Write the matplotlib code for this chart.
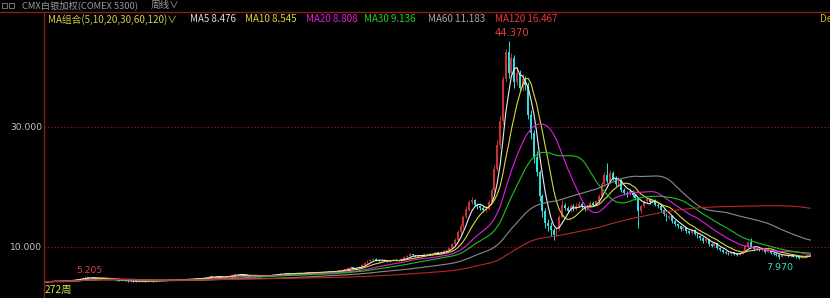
import numpy as np
import pandas as pd
import matplotlib
matplotlib.use('Agg')
import matplotlib.pyplot as plt
from matplotlib.lines import Line2D
from matplotlib.patches import Rectangle

# weekly bars (272 weeks)
closes = [
    4.20, 4.25, 4.30, 4.30, 4.25, 4.30, 4.35, 4.40, 4.45, 4.50,
    4.50, 4.60, 4.75, 4.90, 4.95, 4.85, 4.90, 4.80, 4.75, 4.80,
    4.70, 4.65, 4.60, 4.55, 4.50, 4.45, 4.40, 4.40, 4.35, 4.30,
    4.35, 4.30, 4.25, 4.30, 4.35, 4.30, 4.40, 4.35, 4.30, 4.40,
    4.45, 4.50, 4.45, 4.50, 4.55, 4.50, 4.60, 4.55, 4.50, 4.60,
    4.70, 4.65, 4.70, 4.75, 4.70, 4.80, 4.90, 5.00, 5.10, 5.00,
    5.05, 5.10, 5.00, 4.95, 5.10, 5.20, 5.40, 5.50, 5.45, 5.35,
    5.30, 5.20, 5.10, 5.15, 5.10, 5.05, 5.20, 5.30, 5.25, 5.20,
    5.35, 5.50, 5.55, 5.50, 5.50, 5.60, 5.55, 5.50, 5.60, 5.70,
    5.65, 5.60, 5.70, 5.75, 5.80, 5.70, 5.75, 5.80, 5.90, 5.85,
    5.90, 5.90, 6.00, 5.95, 6.10, 6.20, 6.30, 6.50, 6.60, 6.40,
    6.50, 6.70, 7.00, 7.40, 7.70, 7.90, 8.00, 7.80, 7.60, 7.70,
    7.80, 7.60, 7.70, 7.90, 7.80, 7.70, 8.00, 8.30, 8.50, 8.80,
    8.60, 8.40, 8.50, 8.60, 8.80, 8.90, 8.70, 8.90, 9.10, 9.00,
    9.20, 9.30, 9.50, 9.80, 10.5, 11.2, 12.5, 13.5, 15.0, 16.2,
    17.5, 17.8, 17.0, 16.8, 16.5, 16.2, 16.3, 17.5, 19.5, 23.0,
    27.0, 31.0, 38.0, 42.5, 39.0, 41.5, 37.5, 39.0, 36.5, 38.0,
    37.0, 32.0, 29.0, 25.0, 22.5, 18.5, 16.0, 14.0, 13.5, 12.8,
    12.0, 13.0, 15.0, 17.0, 16.5, 16.0, 16.8, 16.4, 16.9, 17.2,
    16.6, 16.3, 16.8, 17.3, 17.0, 17.6, 18.5, 20.5, 22.0, 21.0,
    22.3, 21.5, 20.5, 21.2, 19.5, 19.0, 18.8, 19.3, 18.6, 18.2,
    16.0, 16.8, 17.6, 18.0, 17.5, 17.8, 17.0, 16.8, 16.2, 15.5,
    14.8, 15.2, 14.3, 13.8, 13.5, 13.0, 13.3, 12.6, 12.4, 12.8,
    12.2, 11.8, 11.5, 11.0, 11.3, 10.5, 10.2, 10.6, 9.80, 9.50,
    9.20, 9.00, 8.80, 9.10, 8.80, 8.70, 9.00, 9.40, 10.2, 10.8,
    10.0, 9.60, 9.70, 9.50, 9.60, 9.20, 9.40, 9.00, 8.90, 8.70,
    8.40, 8.60, 8.70, 8.50, 8.60, 8.40, 8.30, 8.20, 8.30, 8.40,
    8.60, 8.90,
]
highs = [
    4.30, 4.32, 4.36, 4.38, 4.36, 4.36, 4.42, 4.46, 4.52, 4.56,
    4.58, 4.68, 4.82, 5.05, 5.205, 5.02, 4.98, 4.95, 4.86, 4.88,
    4.86, 4.76, 4.72, 4.66, 4.62, 4.56, 4.52, 4.48, 4.46, 4.42,
    4.42, 4.42, 4.36, 4.36, 4.42, 4.42, 4.46, 4.46, 4.42, 4.46,
    4.52, 4.56, 4.56, 4.56, 4.62, 4.62, 4.66, 4.66, 4.62, 4.66,
    4.78, 4.76, 4.76, 4.82, 4.82, 4.88, 4.98, 5.08, 5.20, 5.16,
    5.12, 5.18, 5.16, 5.06, 5.16, 5.28, 5.48, 5.62, 5.58, 5.50,
    5.42, 5.36, 5.26, 5.22, 5.22, 5.16, 5.26, 5.38, 5.36, 5.32,
    5.42, 5.58, 5.64, 5.62, 5.58, 5.68, 5.66, 5.62, 5.68, 5.78,
    5.78, 5.72, 5.78, 5.82, 5.88, 5.86, 5.82, 5.88, 5.98, 5.96,
    5.98, 5.98, 6.08, 6.06, 6.18, 6.28, 6.40, 6.62, 6.85, 6.66,
    6.60, 6.82, 7.12, 7.55, 7.85, 8.05, 8.25, 8.10, 7.90, 7.82,
    7.92, 7.90, 7.80, 8.00, 7.98, 7.88, 8.10, 8.42, 8.62, 8.95,
    8.90, 8.70, 8.60, 8.70, 8.92, 9.02, 8.98, 9.00, 9.22, 9.20,
    9.32, 9.42, 9.62, 9.95, 10.7, 11.5, 12.8, 13.9, 15.4, 16.8,
    17.9, 18.4, 18.0, 17.4, 17.0, 16.8, 16.8, 17.8, 19.9, 23.6,
    27.8, 31.8, 38.5, 43.0, 44.37, 42.3, 42.0, 39.8, 39.5, 38.8,
    38.5, 37.5, 32.8, 29.5, 26.0, 22.9, 18.9, 16.5, 14.6, 14.2,
    13.2, 13.4, 15.4, 17.8, 17.4, 16.9, 17.2, 17.1, 17.3, 17.6,
    17.5, 16.9, 17.0, 17.6, 17.6, 17.9, 18.9, 20.9, 22.5, 24.0,
    22.8, 22.6, 21.8, 21.6, 21.4, 19.9, 19.3, 19.6, 19.5, 18.9,
    18.4, 17.0, 17.8, 18.3, 18.2, 18.0, 18.0, 17.3, 17.0, 16.4,
    15.7, 15.4, 15.3, 14.5, 14.0, 13.7, 13.5, 13.4, 12.9, 13.0,
    13.0, 12.4, 12.0, 11.6, 11.5, 11.4, 10.7, 10.8, 10.7, 9.95,
    9.60, 9.30, 9.10, 9.20, 9.20, 8.90, 9.10, 9.50, 10.4, 11.0,
    11.5, 10.1, 9.80, 9.80, 9.70, 9.70, 9.50, 9.50, 9.10, 9.00,
    8.80, 8.70, 8.85, 8.80, 8.70, 8.70, 8.50, 8.40, 8.40, 8.50,
    8.70, 9.00,
]
lows = [
    4.12, 4.15, 4.20, 4.22, 4.18, 4.20, 4.25, 4.30, 4.34, 4.40,
    4.42, 4.45, 4.55, 4.70, 4.85, 4.78, 4.80, 4.72, 4.68, 4.70,
    4.62, 4.58, 4.52, 4.48, 4.42, 4.38, 4.32, 4.32, 4.28, 4.22,
    4.24, 4.24, 4.18, 4.18, 4.24, 4.24, 4.24, 4.28, 4.22, 4.24,
    4.34, 4.38, 4.38, 4.38, 4.44, 4.44, 4.44, 4.48, 4.42, 4.44,
    4.54, 4.58, 4.58, 4.64, 4.64, 4.64, 4.74, 4.84, 4.94, 4.92,
    4.92, 4.98, 4.92, 4.88, 4.90, 5.02, 5.14, 5.32, 5.38, 5.28,
    5.22, 5.12, 5.04, 5.04, 5.04, 4.98, 5.00, 5.14, 5.18, 5.12,
    5.14, 5.28, 5.42, 5.44, 5.42, 5.44, 5.48, 5.42, 5.44, 5.54,
    5.56, 5.52, 5.54, 5.62, 5.68, 5.62, 5.64, 5.68, 5.74, 5.78,
    5.78, 5.82, 5.84, 5.88, 5.90, 6.02, 6.12, 6.22, 6.42, 6.32,
    6.30, 6.42, 6.62, 6.90, 7.30, 7.60, 7.80, 7.70, 7.50, 7.52,
    7.60, 7.52, 7.52, 7.62, 7.70, 7.60, 7.62, 7.92, 8.20, 8.42,
    8.50, 8.30, 8.32, 8.42, 8.52, 8.70, 8.60, 8.62, 8.82, 8.90,
    8.90, 9.10, 9.20, 9.40, 9.70, 10.3, 11.0, 12.2, 13.2, 14.8,
    16.0, 17.2, 16.8, 16.4, 16.1, 15.8, 15.9, 16.1, 17.3, 19.2,
    22.6, 26.5, 30.5, 37.5, 38.2, 38.5, 36.5, 37.0, 36.0, 36.0,
    36.2, 31.4, 28.0, 24.0, 21.8, 17.6, 15.0, 13.2, 12.6, 11.8,
    11.2, 11.8, 12.8, 14.8, 16.2, 15.6, 15.8, 16.0, 16.1, 16.6,
    16.3, 16.0, 16.1, 16.6, 16.8, 16.8, 17.4, 18.3, 20.2, 20.6,
    20.8, 21.2, 20.2, 20.2, 19.2, 18.7, 18.4, 18.6, 18.3, 17.9,
    13.2, 15.6, 16.6, 17.3, 17.2, 17.3, 16.8, 16.5, 15.9, 15.2,
    14.4, 14.6, 14.0, 13.5, 13.2, 12.6, 12.8, 12.3, 12.1, 12.2,
    12.0, 11.5, 11.2, 10.7, 10.8, 10.2, 10.0, 10.0, 9.60, 9.30,
    9.00, 8.80, 8.60, 8.70, 8.60, 8.50, 8.60, 8.90, 9.30, 10.0,
    9.80, 9.40, 9.50, 9.30, 9.40, 9.00, 9.10, 8.80, 8.70, 8.50,
    7.97, 8.30, 8.50, 8.40, 8.40, 8.30, 8.10, 8.05, 8.10, 8.20,
    8.30, 8.50,
]
# each weekly bar opens where the previous one closed
opens = [closes[0]] + closes[:-1]

ma_periods = [5, 10, 20, 30, 60, 120]
ma_colors = ['#ececec', '#d8d83a', '#e020e0', '#22c022', '#8c8c8c', '#b82828']
legend_parts = [
    ('MA组合(5,10,20,30,60,120)∨', '#d0d04a', 48),
    ('MA5 8.476', '#dcdcdc', 190),
    ('MA10 8.545', '#d8d83a', 245),
    ('MA20 8.808', '#e020e0', 306),
    ('MA30 9.136', '#22d022', 364),
    ('MA60 11.183', '#a8a8a8', 428),
    ('MA120 16.467', '#e83a3a', 495),
]
y_ticks = [30, 10]

UP = '#c83232'
DOWN = '#2edede'
FRAME = '#8a1c1c'

plt.rcParams['font.family'] = ['Noto Sans CJK SC', 'DejaVu Sans']

W, H = 830, 298
fig = plt.figure(figsize=(W / 100, H / 100), dpi=100, facecolor='black')

def fx(x):
    return x / W

def fy(y):
    return 1 - y / H

# plot area: from the red frame (x=44, y=12) to the bottom right corner
ax = fig.add_axes([fx(44), 0, 1 - fx(44), fy(12)])
ax.set_facecolor('black')
ax.axis('off')
ax.set_xlim(-0.71, 278.0)
ax.set_ylim(1.5, 49.17)

idx = np.arange(len(closes))
o = np.array(opens)
c = np.array(closes)
h = np.array(highs)
l = np.array(lows)
up = c >= o
dn = ~up
body = np.maximum(np.abs(c - o), 0.06)

for y in y_ticks:
    ax.axhline(y, color='#a02020', lw=0.8, ls=(0, (1, 2)), zorder=1)

ax.vlines(idx[up], l[up], h[up], color=UP, lw=0.7, zorder=2)
ax.vlines(idx[dn], l[dn], h[dn], color=DOWN, lw=0.7, zorder=2)
ax.bar(idx[up], body[up], bottom=np.minimum(o, c)[up], width=0.66,
       color=UP, linewidth=0, zorder=2)
ax.bar(idx[dn], body[dn], bottom=np.minimum(o, c)[dn], width=0.66,
       color=DOWN, linewidth=0, zorder=2)

s = pd.Series(closes)
for n, col in zip(ma_periods, ma_colors):
    ax.plot(idx, s.rolling(n, min_periods=1).mean(), color=col, lw=0.8, zorder=3)

# max / min annotations
i_hi = int(np.argmax(h))
ax.text(i_hi + 1.3, h[i_hi] + 0.5, f'{h[i_hi]:.3f}', color='#e04040',
        fontsize=7.2, ha='center', va='bottom', family='DejaVu Sans')
i_lo = int(np.argmin(l[200:])) + 200
ax.text(i_lo, l[i_lo] - 0.6, f'{l[i_lo]:.3f}', color='#3ad6d6',
        fontsize=6.8, ha='center', va='top', family='DejaVu Sans')
i_early = int(np.argmax(h[:40]))
ax.text(i_early + 1.5, h[i_early] + 0.15, f'{h[i_early]:.3f}', color='#e04040',
        fontsize=6.6, ha='center', va='bottom', family='DejaVu Sans')

# frame lines
fig.add_artist(Line2D([0, 1], [fy(12), fy(12)], color=FRAME, lw=1.0,
                      transform=fig.transFigure))
fig.add_artist(Line2D([fx(44), fx(44)], [0, fy(12)], color=FRAME, lw=1.0,
                      transform=fig.transFigure))

# header
for x0 in (2, 9):
    fig.add_artist(Rectangle((fx(x0), fy(7.5)), fx(5), 4.5 / H, fill=False,
                             edgecolor='#8a8a8a', lw=0.6, transform=fig.transFigure))
fig.text(fx(22), fy(5.5), 'CMX白银加权(COMEX 5300)', color='#9a9a9a',
         fontsize=6.7, ha='left', va='center')
fig.text(fx(151), fy(5.5), '周线∨', color='#9a9a9a', fontsize=6.9,
         ha='left', va='center')

for txt, col, x0 in legend_parts:
    fig.text(fx(x0), fy(19.5), txt, color=col, fontsize=7.0, ha='left', va='center')
fig.text(fx(820), fy(19.5), 'De', color='#b8b800', fontsize=7.0, ha='left', va='center')

for y in y_ticks:
    ypix = 127 + (30 - y) * 6.0
    fig.text(fx(42), fy(ypix), f'{y:.3f}', color='#c4c4c4', fontsize=6.6,
             ha='right', va='center', family='DejaVu Sans')

fig.text(fx(45), fy(290), f'{len(closes)}周', color='#e0e040', fontsize=7.4,
         ha='left', va='center')

fig.savefig('out.png', dpi=100, facecolor='black')
